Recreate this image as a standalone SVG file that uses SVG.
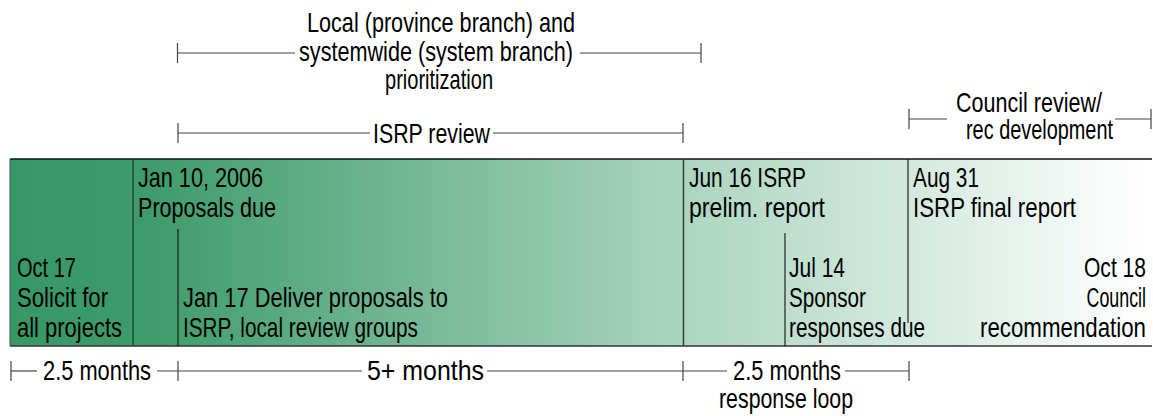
<svg xmlns="http://www.w3.org/2000/svg" width="1153" height="416" viewBox="0 0 1153 416">
  <defs>
    <linearGradient id="bar" x1="10" y1="0" x2="1152" y2="0" gradientUnits="userSpaceOnUse">
      <stop offset="0" stop-color="#379766"/>
      <stop offset="0.12" stop-color="#3e9b6b"/>
      <stop offset="0.59" stop-color="#acd5c0"/>
      <stop offset="0.79" stop-color="#d4e9de"/>
      <stop offset="0.96" stop-color="#f8fcfa"/>
      <stop offset="1" stop-color="#ffffff"/>
    </linearGradient>
  </defs>
  <style>
    text { font-family: "Liberation Sans", Arial, sans-serif; font-size: 27px; fill: #000; }
    .end { text-anchor: end; }
    .div { stroke: #2b3f33; stroke-width: 1.4; fill: none; }
    .thin { stroke: #111; stroke-width: 1.1; fill: none; }
    .br { stroke: #444; stroke-width: 1.2; fill: none; }
  </style>

  <rect width="1153" height="416" fill="#ffffff"/>

  <g id="timeline-bar">
    <rect x="10" y="159" width="1142" height="187" fill="url(#bar)"/>
    <line x1="10" y1="159" x2="1152" y2="159" stroke="#111" stroke-width="1.4"/>
    <line x1="10" y1="346" x2="1152" y2="346" stroke="#333" stroke-width="1.4"/>
    <line x1="10" y1="159" x2="10" y2="346" stroke="#3a5a48" stroke-width="1"/>
  </g>

  <g id="connectors">
    <line class="div" x1="133" y1="159" x2="133" y2="346"/>
    <line class="thin" x1="178" y1="229" x2="178" y2="346"/>
    <line class="div" x1="683.5" y1="159" x2="683.5" y2="346"/>
    <line class="thin" x1="785" y1="233" x2="785" y2="346"/>
    <line class="thin" x1="908" y1="159" x2="908" y2="323"/>

    <!-- top prioritization bracket -->
    <line class="br" x1="177.5" y1="53" x2="295" y2="53"/>
    <line class="br" x1="580" y1="53" x2="701" y2="53"/>
    <line class="br" x1="177.5" y1="43" x2="177.5" y2="63"/>
    <line class="br" x1="701" y1="43" x2="701" y2="63"/>

    <!-- ISRP review bracket -->
    <line class="br" x1="178" y1="133" x2="370" y2="133"/>
    <line class="br" x1="493" y1="133" x2="683" y2="133"/>
    <line class="br" x1="178" y1="123" x2="178" y2="143"/>
    <line class="br" x1="683" y1="123" x2="683" y2="143"/>

    <!-- Council bracket -->
    <line class="br" x1="909" y1="119" x2="947" y2="119"/>
    <line class="br" x1="1115" y1="119" x2="1151" y2="119"/>
    <line class="br" x1="909" y1="109" x2="909" y2="129"/>
    <line class="br" x1="1151" y1="109" x2="1151" y2="129"/>

    <!-- bottom duration scale -->
    <line class="br" x1="11" y1="371" x2="37" y2="371"/>
    <line class="br" x1="157" y1="371" x2="362" y2="371"/>
    <line class="br" x1="487" y1="371" x2="727" y2="371"/>
    <line class="br" x1="845" y1="371" x2="909" y2="371"/>
    <line class="br" x1="11" y1="361" x2="11" y2="381"/>
    <line class="br" x1="178" y1="361" x2="178" y2="381"/>
    <line class="br" x1="683" y1="361" x2="683" y2="381"/>
    <line class="br" x1="909" y1="361" x2="909" y2="381"/>
  </g>

  <g id="label-prioritization">
    <text transform="translate(307,32) scale(0.78,1)" textLength="343.6" lengthAdjust="spacingAndGlyphs">Local (province branch) and</text>
    <text transform="translate(299,61) scale(0.78,1)" textLength="351.3" lengthAdjust="spacingAndGlyphs">systemwide (system branch)</text>
    <text transform="translate(385,89) scale(0.78,1)" textLength="138.5" lengthAdjust="spacingAndGlyphs">prioritization</text>
  </g>
  <g id="label-isrp-review">
    <text transform="translate(373,143) scale(0.78,1)" textLength="150" lengthAdjust="spacingAndGlyphs">ISRP review</text>
  </g>
  <g id="label-council-review">
    <text class="end" transform="translate(1102,112) scale(0.78,1)" textLength="187.2" lengthAdjust="spacingAndGlyphs">Council review/</text>
    <text class="end" transform="translate(1113,139) scale(0.78,1)" textLength="188.5" lengthAdjust="spacingAndGlyphs">rec development</text>
  </g>

  <g id="milestone-oct17">
    <text transform="translate(17,277) scale(0.78,1)" textLength="75.6" lengthAdjust="spacingAndGlyphs">Oct 17</text>
    <text transform="translate(17,307) scale(0.78,1)" textLength="116.7" lengthAdjust="spacingAndGlyphs">Solicit for</text>
    <text transform="translate(17,337) scale(0.78,1)" textLength="134.6" lengthAdjust="spacingAndGlyphs">all projects</text>
  </g>
  <g id="milestone-jan10">
    <text transform="translate(138,187) scale(0.78,1)" textLength="160.3" lengthAdjust="spacingAndGlyphs">Jan 10, 2006</text>
    <text transform="translate(138,217) scale(0.78,1)" textLength="176.9" lengthAdjust="spacingAndGlyphs">Proposals due</text>
  </g>
  <g id="milestone-jan17">
    <text transform="translate(183,307) scale(0.78,1)" textLength="339.7" lengthAdjust="spacingAndGlyphs">Jan 17 Deliver proposals to</text>
    <text transform="translate(183,337) scale(0.78,1)" textLength="301.3" lengthAdjust="spacingAndGlyphs">ISRP, local review groups</text>
  </g>
  <g id="milestone-jun16">
    <text transform="translate(689,187) scale(0.78,1)" textLength="150" lengthAdjust="spacingAndGlyphs">Jun 16 ISRP</text>
    <text transform="translate(689,217) scale(0.78,1)" textLength="174.4" lengthAdjust="spacingAndGlyphs">prelim. report</text>
  </g>
  <g id="milestone-jul14">
    <text transform="translate(789,277) scale(0.78,1)" textLength="71.8" lengthAdjust="spacingAndGlyphs">Jul 14</text>
    <text transform="translate(789,307) scale(0.78,1)" textLength="98.7" lengthAdjust="spacingAndGlyphs">Sponsor</text>
    <text transform="translate(789,337) scale(0.78,1)" textLength="174.4" lengthAdjust="spacingAndGlyphs">responses due</text>
  </g>
  <g id="milestone-aug31">
    <text transform="translate(913,187) scale(0.78,1)" textLength="84.6" lengthAdjust="spacingAndGlyphs">Aug 31</text>
    <text transform="translate(913,217) scale(0.78,1)" textLength="209" lengthAdjust="spacingAndGlyphs">ISRP final report</text>
  </g>
  <g id="milestone-oct18">
    <text class="end" transform="translate(1146,277) scale(0.78,1)" textLength="79.5" lengthAdjust="spacingAndGlyphs">Oct 18</text>
    <text class="end" transform="translate(1146,307) scale(0.66,1)">Council</text>
    <text class="end" transform="translate(1146,337) scale(0.78,1)" textLength="212.8" lengthAdjust="spacingAndGlyphs">recommendation</text>
  </g>

  <g id="duration-labels">
    <text transform="translate(43,380) scale(0.78,1)" textLength="138.5" lengthAdjust="spacingAndGlyphs">2.5 months</text>
    <text transform="translate(367,380) scale(0.78,1)" textLength="150" lengthAdjust="spacingAndGlyphs">5+ months</text>
    <text transform="translate(733,380) scale(0.78,1)" textLength="138.5" lengthAdjust="spacingAndGlyphs">2.5 months</text>
    <text transform="translate(719,408) scale(0.78,1)" textLength="171.8" lengthAdjust="spacingAndGlyphs">response loop</text>
  </g>
</svg>
